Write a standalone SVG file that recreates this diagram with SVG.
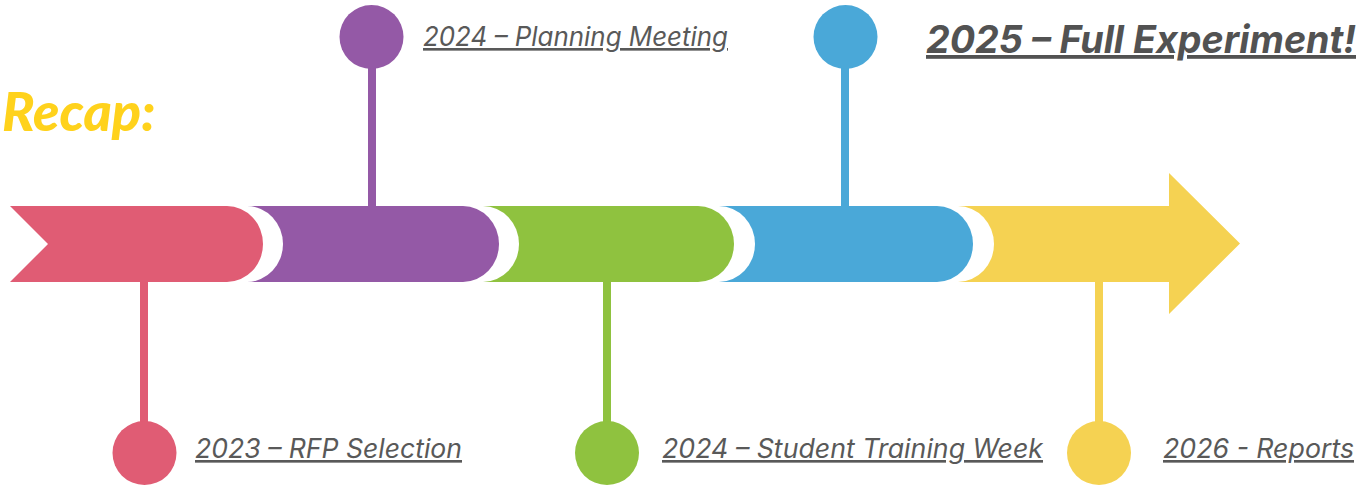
<svg xmlns="http://www.w3.org/2000/svg" width="1372" height="485" viewBox="0 0 1372 485">
<style>
.lbl{font-family:Inter,"Noto Sans","Liberation Sans",sans-serif;font-style:italic;font-size:26.5px;fill:#595959;text-decoration:underline}
.title{font-family:Inter,"Noto Sans","Liberation Sans",sans-serif;font-style:italic;font-weight:700;font-size:38px;fill:#525252;text-decoration:underline}
.recap{font-family:Lato,"DejaVu Sans",sans-serif;font-style:italic;font-weight:900;font-size:54px;fill:#FFD21C}
.gap{fill:#ffffff}
</style>
<rect width="1372" height="485" fill="#ffffff"/>
<text class="recap" x="2" y="131">Recap:</text>
<g id="connectors">
<rect x="368" y="60" width="8" height="150" fill="#9459A6"/>
<rect x="841" y="60" width="8" height="150" fill="#4AA8D8"/>
<rect x="140" y="278" width="8" height="150" fill="#E05C74"/>
<rect x="603" y="278" width="8" height="150" fill="#8FC23F"/>
<rect x="1095" y="278" width="8" height="150" fill="#F5D252"/>
</g>
<g id="band">
<path id="seg-yellow" d="M950,206 H1169 V173 L1240,243.5 L1169,314 V282 H950 Z" fill="#F5D252"/>
<path class="gap" d="M731,206 H958 A36 38 0 0 1 994,244 A36 38 0 0 1 958,282 H731 Z"/>
<path id="seg-blue" d="M710,206 H937 A36 38 0 0 1 973,244 A36 38 0 0 1 937,282 H710 Z" fill="#4AA8D8"/>
<path class="gap" d="M496,206 H719 A36 38 0 0 1 755,244 A36 38 0 0 1 719,282 H496 Z"/>
<path id="seg-green" d="M475,206 H698 A36 38 0 0 1 734,244 A36 38 0 0 1 698,282 H475 Z" fill="#8FC23F"/>
<path class="gap" d="M261,206 H483 A36 38 0 0 1 519,244 A36 38 0 0 1 483,282 H261 Z"/>
<path id="seg-purple" d="M240,206 H463 A36 38 0 0 1 499,244 A36 38 0 0 1 463,282 H240 Z" fill="#9459A6"/>
<path class="gap" d="M31,206 H247 A36 38 0 0 1 283,244 A36 38 0 0 1 247,282 H31 Z"/>
<path id="seg-pink" d="M10,206 H227 A36 38 0 0 1 263,244 A36 38 0 0 1 227,282 H10 L48,244 Z" fill="#E05C74"/>
</g>
<g id="node-2023">
<circle cx="144.5" cy="453" r="32" fill="#E05C74"/>
<text class="lbl" x="195" y="458" textLength="267" lengthAdjust="spacingAndGlyphs">2023 – RFP Selection</text>
</g>
<g id="node-2024-planning">
<circle cx="371.5" cy="37" r="32" fill="#9459A6"/>
<text class="lbl" x="423" y="46" textLength="305" lengthAdjust="spacingAndGlyphs">2024 – Planning Meeting</text>
</g>
<g id="node-2024-training">
<circle cx="607" cy="453" r="32" fill="#8FC23F"/>
<text class="lbl" x="662" y="458" textLength="381" lengthAdjust="spacingAndGlyphs">2024 – Student Training Week</text>
</g>
<g id="node-2025">
<circle cx="845.5" cy="37" r="32" fill="#4AA8D8"/>
<text class="title" x="926" y="53" textLength="430" lengthAdjust="spacingAndGlyphs">2025 – Full Experiment!</text>
</g>
<g id="node-2026">
<circle cx="1099" cy="453" r="32" fill="#F5D252"/>
<text class="lbl" x="1163" y="458" textLength="191" lengthAdjust="spacingAndGlyphs">2026 - Reports</text>
</g>
</svg>
